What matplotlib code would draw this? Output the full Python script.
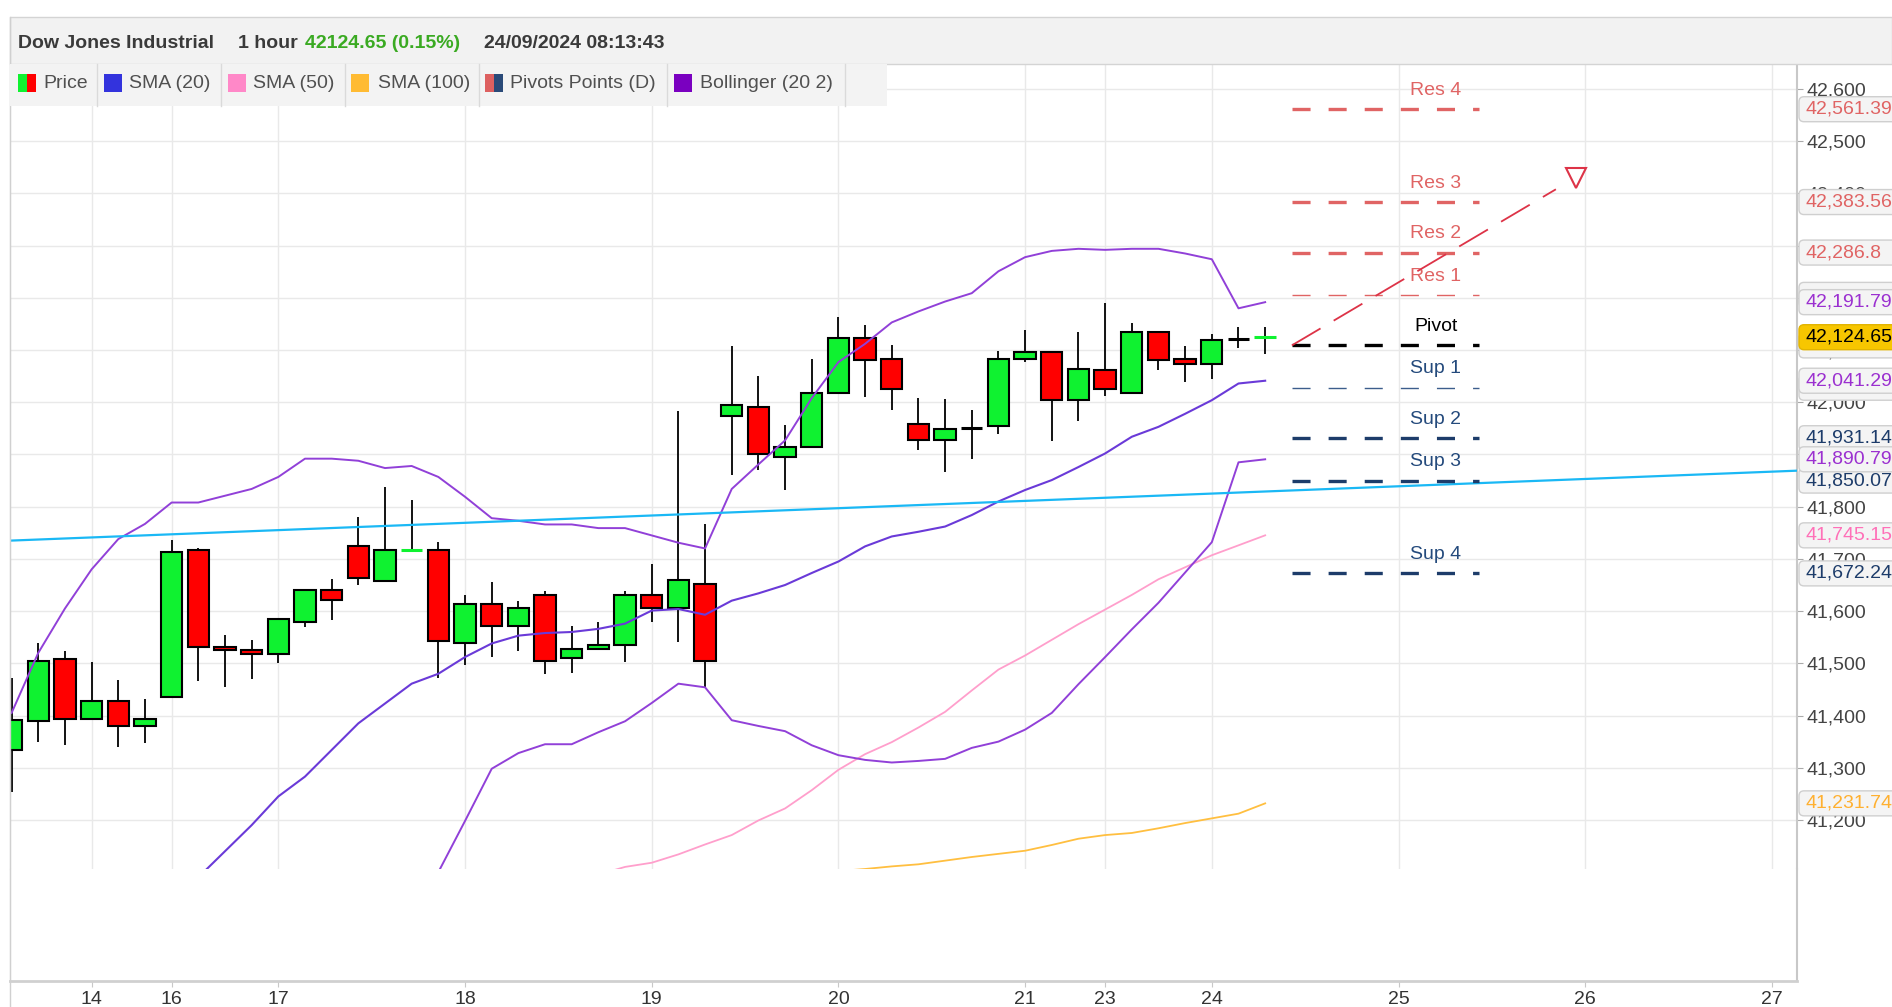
import matplotlib
matplotlib.use('Agg')
import matplotlib.pyplot as plt
import matplotlib.ticker as mticker
from matplotlib.patches import Rectangle, FancyBboxPatch
from matplotlib.lines import Line2D
from matplotlib.transforms import blended_transform_factory, IdentityTransform

plt.rcParams['font.family'] = ['Liberation Sans', 'DejaVu Sans']
plt.rcParams['lines.scale_dashes'] = False

W, H = 1892, 1007

# hourly candles, x = bar index (0 = first bar of the 14th)
bar_x = list(range(-3, 45))
opens = [41334, 41390, 41508, 41394, 41428, 41380, 41436, 41718, 41532, 41526,
         41518, 41580, 41641, 41724, 41658, 41717, 41718, 41539, 41613, 41571,
         41630, 41511, 41528, 41536, 41630, 41606, 41651, 41973, 41991, 41896,
         41914, 42018, 42123, 42082, 41959, 41927, 41951, 41955, 42082, 42096,
         42005, 42061, 42018, 42134, 42082, 42073, 42121, 42124.65]
highs = [41471, 41538, 41524, 41503, 41468, 41432, 41736, 41721, 41555, 41544,
         41585, 41641, 41662, 41781, 41837, 41813, 41733, 41631, 41655, 41620,
         41639, 41572, 41579, 41639, 41690, 41983, 41767, 42107, 42050, 41957,
         42082, 42163, 42149, 42110, 42009, 42006, 41985, 42099, 42138, 42099,
         42134, 42190, 42152, 42134, 42107, 42131, 42145, 42145]
lows = [41254, 41350, 41343, 41394, 41340, 41347, 41436, 41466, 41455, 41469,
        41501, 41569, 41583, 41650, 41658, 41717, 41472, 41496, 41513, 41524,
        41479, 41482, 41528, 41503, 41579, 41541, 41452, 41861, 41870, 41832,
        41914, 42018, 42010, 41986, 41908, 41867, 41891, 41940, 42077, 41926,
        41964, 42013, 42018, 42062, 42038, 42045, 42104, 42093]
closes = [41391, 41504, 41394, 41428, 41380, 41393, 41714, 41532, 41525, 41518,
          41585, 41641, 41622, 41664, 41717, 41717, 41543, 41613, 41571, 41606,
          41504, 41528, 41536, 41630, 41606, 41659, 41504, 41994, 41900, 41914,
          42018, 42123, 42081, 42025, 41927, 41949, 41951, 42082, 42096, 42005,
          42064, 42025, 42134, 42081, 42074, 42120, 42121, 42124.65]
last_price = 42124.65

day_pos = [0, 3, 7, 14, 21, 28, 35, 38, 42, 49, 56, 63]
day_lbl = ['14', '16', '17', '18', '19', '20', '21', '23', '24', '25', '26', '27']

# Bollinger (20, 2)
bb_up_x = list(range(-3, 45))
bb_up = [41405, 41520, 41605, 41680, 41738, 41767, 41808, 41808, 41821, 41834,
         41857, 41892, 41892, 41888, 41874, 41878, 41857, 41819, 41778, 41773,
         41766, 41766, 41759, 41759, 41745, 41731, 41720, 41834, 41881, 41927,
         42008, 42077, 42112, 42153, 42174, 42193, 42209, 42251, 42278, 42290,
         42294, 42292, 42294, 42294, 42285, 42274, 42180, 42191.79]
bb_mid_x = list(range(4, 45))
bb_mid = [41090, 41140, 41190, 41245, 41283, 41334, 41385, 41423, 41461, 41480,
          41512, 41538, 41553, 41558, 41560, 41566, 41576, 41601, 41604, 41593,
          41620, 41634, 41650, 41673, 41695, 41724, 41743, 41752, 41762, 41784,
          41810, 41832, 41851, 41876, 41902, 41934, 41953, 41978, 42004, 42036,
          42041.29]
bb_lo_x = list(range(12, 45))
bb_lo = [41010, 41100, 41198, 41298, 41328, 41345, 41345, 41368, 41389, 41424,
         41461, 41454, 41391, 41380, 41370, 41343, 41324, 41315, 41310, 41313,
         41317, 41338, 41350, 41373, 41405, 41460, 41512, 41565, 41616, 41674,
         41732, 41885, 41890.79]

sma50_x = list(range(19, 45))
sma50 = [41095, 41110, 41118, 41134, 41153, 41171, 41199, 41222, 41257, 41296,
         41326, 41349, 41377, 41407, 41448, 41488, 41515, 41545, 41575, 41603,
         41631, 41661, 41684, 41707, 41726, 41745.15]
sma100_x = list(range(28, 45))
sma100 = [41102, 41106, 41111, 41115, 41122, 41129, 41135, 41141, 41152, 41164,
          41171, 41175, 41184, 41194, 41203, 41212, 41231.74]

piv_names = ['Res 4', 'Res 3', 'Res 2', 'Res 1', 'Pivot', 'Sup 1', 'Sup 2', 'Sup 3', 'Sup 4']
piv_vals = [42561.39, 42383.56, 42286.8, 42205.73, 42108.97, 42027.9, 41931.14, 41850.07, 41672.24]
# price-scale boxes whose value is hidden under another box
piv_hidden = ['Res 1', 'Pivot', 'Sup 1']

trend_a = (-3.06, 41735)
trend_b = (63.94, 41869)
arrow_start = (45, 42108.97)
arrow_end = (54.9, 42408)
arrow_head = (55.65, 42429)


def fx(px):
    return px / W


def fy(py):
    return 1 - py / H


fig = plt.figure(figsize=(W / 100, H / 100), dpi=100)

ax = fig.add_axes([fx(10), fy(869), fx(1797) - fx(10), fy(64) - fy(869)])
ax2 = fig.add_axes([fx(10), fy(981), fx(1797) - fx(10), fy(869) - fy(981)])

GREEN = '#0ff230'
RED = '#ff0000'
doji_col = {12: GREEN, 33: 'black', 43: 'black', 44: GREEN}

# candles
for i, o, h, l, c in zip(bar_x, opens, highs, lows, closes):
    ax.vlines(i, l, h, color='black', lw=1.3, zorder=3)
    if o == c:
        ax.hlines(o, i - 0.4, i + 0.4, color=doji_col.get(i, 'black'), lw=2.2, zorder=4)
        continue
    col = GREEN if c > o else RED
    ax.add_patch(Rectangle((i - 0.4, min(o, c)), 0.8, abs(c - o), fc=col, ec='black', lw=1.5, zorder=4))

# indicators
ax.plot(sma100_x, sma100, color='#ffbf40', lw=1.3, zorder=5)
ax.plot(sma50_x, sma50, color='#ff9fcc', lw=1.3, zorder=5)
ax.plot(bb_mid_x, bb_mid, color='#6a3ad8', lw=1.5, zorder=5)
ax.plot(bb_up_x, bb_up, color='#9140d8', lw=1.4, zorder=5)
ax.plot(bb_lo_x, bb_lo, color='#9140d8', lw=1.4, zorder=5)
ax.axline(trend_a, trend_b, color='#1ab8f5', lw=1.6, zorder=6)

# pivot levels
piv_col = ['#e06464', '#e06464', '#e06464', '#e06464', 'black',
           '#3c5d8c', '#1d3c6a', '#1d3c6a', '#1d3c6a']
piv_lw = [2.4, 2.4, 2.4, 1.0, 2.4, 1.0, 2.4, 2.4, 2.4]
piv_txt = ['#e06464'] * 4 + ['black'] + ['#244a7c'] * 4
for name, v, c, lw, tc in zip(piv_names, piv_vals, piv_col, piv_lw, piv_txt):
    ax.plot([45, 52], [v, v], color=c, lw=lw, dashes=(13, 13), zorder=6)
    ax.annotate(name, (50.4, v), xytext=(0, 13.5), textcoords='offset points',
                ha='center', va='center', fontsize=14, color=tc, zorder=7)

ax.plot([arrow_start[0], arrow_end[0]], [arrow_start[1], arrow_end[1]],
        color='#dd3347', lw=1.3, dashes=(24, 11), zorder=7)
ax.plot([arrow_head[0]], [arrow_head[1]], marker='v', ms=15, mfc='white', mec='#dd3347', mew=1.5, zorder=7)

# axes styling
ax.set_xlim(-3.06, 63.94)
ax.set_ylim(41106, 42648)
ax2.set_xlim(-3.06, 63.94)
ax.set_xticks(day_pos)
ax.set_yticks(range(41200, 42700, 100))
ax.yaxis.set_major_formatter(mticker.StrMethodFormatter('{x:,.0f}'))
ax.yaxis.tick_right()
ax.tick_params(axis='y', length=4, color='#aaaaaa', pad=3, labelsize=14, labelcolor='#444444')
ax.tick_params(axis='x', length=0, labelbottom=False)
ax.grid(True, color='#e9e9e9', lw=1)
ax.set_axisbelow(True)
for s in ['top', 'bottom']:
    ax.spines[s].set_visible(False)
ax.spines['left'].set_color('#d0d0d0')
ax.spines['right'].set_color('#c8c8c8')
ax.spines['right'].set_linewidth(1.5)

ax2.set_yticks([])
ax2.set_xticks(day_pos)
ax2.set_xticklabels(day_lbl)
ax2.tick_params(axis='x', length=4, color='#c8c8c8', pad=3, labelsize=14, labelcolor='#333333')
ax2.spines['top'].set_visible(False)
ax2.spines['left'].set_color('#d0d0d0')
ax2.spines['right'].set_color('#c8c8c8')
ax2.spines['right'].set_linewidth(1.5)
ax2.spines['bottom'].set_color('#d0d0d0')
ax2.spines['bottom'].set_linewidth(2)

# value boxes on the price scale (box drawn in pixels, value as text)
tr = blended_transform_factory(ax.transAxes, ax.transData)
txt_x = (1805 - 10) / (1797 - 10)
zz = [8.0]


def price_box(v, tc, fc='#f4f4f4', ec='#cfcfcf', show=True):
    ypx = ax.transData.transform((0, v))[1]
    zz[0] += 0.1
    box = FancyBboxPatch((1799, ypx - 12.5), 120, 25, boxstyle='round,pad=0,rounding_size=5',
                         transform=IdentityTransform(), fc=fc, ec=ec, lw=1, clip_on=False, zorder=zz[0])
    ax.add_artist(box)
    if show:
        ax.text(txt_x, v, f'{v:,}', transform=tr, ha='left', va='center', fontsize=14, color=tc,
                clip_on=False, zorder=zz[0] + 0.05)


piv_box_col = ['#e06464'] * 4 + ['black'] + ['#3c5d8c'] + ['#1d3c6a'] * 3
for name, v, c in zip(piv_names, piv_vals, piv_box_col):
    price_box(v, c, show=name not in piv_hidden)
for v, c in [(bb_up[-1], '#9b30d0'), (bb_mid[-1], '#9b30d0'), (bb_lo[-1], '#9b30d0'),
             (sma50[-1], '#ff70b8'), (sma100[-1], '#ffb030')]:
    price_box(v, c)
price_box(last_price, 'black', fc='#f7c600', ec='#e2b400')

# header bar
fig.add_artist(Rectangle((fx(10), fy(64)), 1 - fx(10), (64 - 17) / H, transform=fig.transFigure,
                         fc='#f2f2f2', ec='#d4d4d4', lw=1, zorder=4))
fig.add_artist(Line2D([fx(10), fx(10)], [fy(17), 0], transform=fig.transFigure, color='#d0d0d0', lw=1, zorder=4))
hy = fy(43)
fig.text(fx(18), hy, 'Dow Jones Industrial', fontsize=14, fontweight='bold', color='#3a3a3a', va='center', zorder=5)
fig.text(fx(238), hy, '1 hour', fontsize=14, fontweight='bold', color='#3a3a3a', va='center', zorder=5)
fig.text(fx(305), hy, '42124.65 (0.15%)', fontsize=14, fontweight='bold', color='#3aaa22', va='center', zorder=5)
fig.text(fx(484), hy, '24/09/2024 08:13:43', fontsize=14, fontweight='bold', color='#3a3a3a', va='center', zorder=5)

# legend row
fig.add_artist(Rectangle((fx(10), fy(106)), fx(887) - fx(10), (106 - 64) / H, transform=fig.transFigure,
                         fc='#f3f3f3', ec='none', zorder=4))
for sx in [96.5, 221, 345, 479, 667, 845]:
    fig.add_artist(Line2D([fx(sx), fx(sx)], [fy(106), fy(64)], transform=fig.transFigure,
                          color='#dadada', lw=1, zorder=5))
leg_items = [('Price', 18, 43, [GREEN, RED]),
             ('SMA (20)', 104, 129, ['#3333dd']),
             ('SMA (50)', 228, 253, ['#ff88c8']),
             ('SMA (100)', 351, 378, ['#ffbb33']),
             ('Pivots Points (D)', 485, 510, ['#dd6060', '#2a4a78']),
             ('Bollinger (20 2)', 674, 700, ['#7a00c0'])]
for label, sx, tx, cols in leg_items:
    sw = 18 / len(cols)
    for k, c in enumerate(cols):
        fig.add_artist(Rectangle((fx(sx + k * sw), fy(92)), sw / W, 18 / H, transform=fig.transFigure,
                                 fc=c, ec='none', zorder=5))
    fig.text(fx(tx), fy(83), label, fontsize=14, color='#505050', va='center', zorder=5)

fig.savefig('out.png', dpi=100)
